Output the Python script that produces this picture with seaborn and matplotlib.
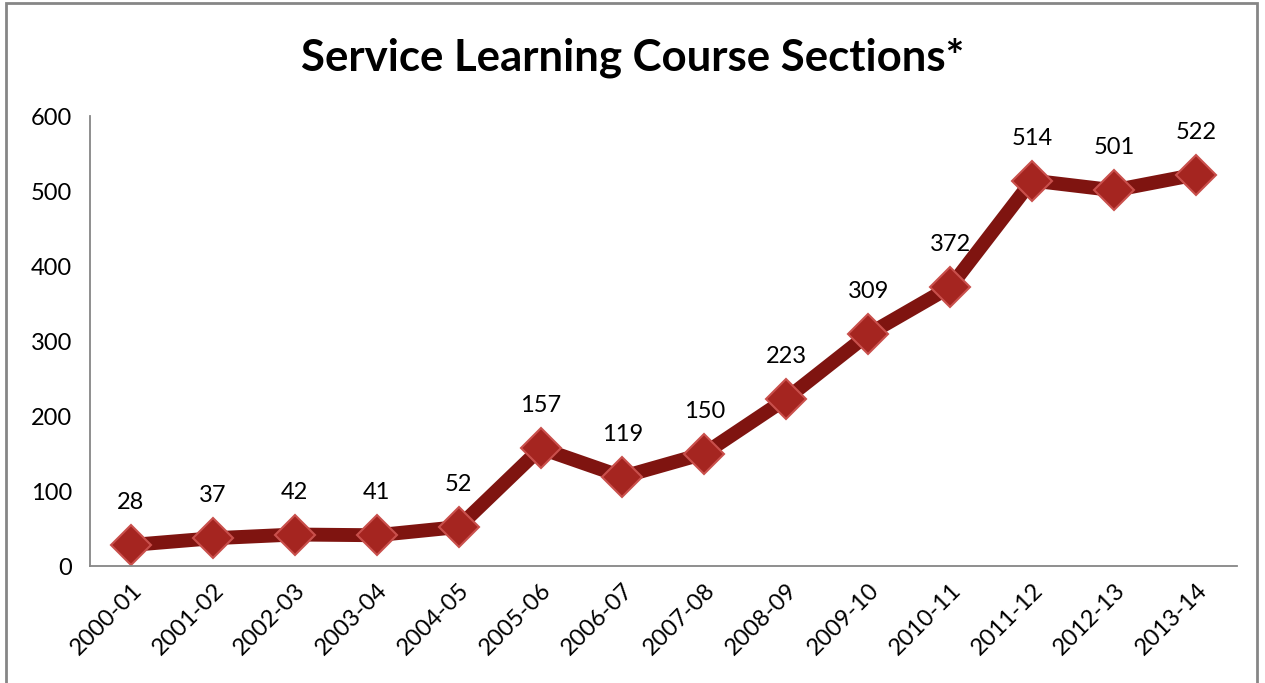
import matplotlib.pyplot as plt
import seaborn as sns
import pandas as pd
import numpy as np
from matplotlib.patches import Rectangle

years = ['2000-01', '2001-02', '2002-03', '2003-04', '2004-05', '2005-06', '2006-07',
         '2007-08', '2008-09', '2009-10', '2010-11', '2011-12', '2012-13', '2013-14']
sections = [28, 37, 42, 41, 52, 157, 119, 150, 223, 309, 372, 514, 501, 522]

data = pd.DataFrame({'pos': np.arange(len(years)), 'Year': years, 'Sections': sections})

sns.set_style('white')
plt.rcParams['font.family'] = ['Lato', 'DejaVu Sans']
plt.rcParams['text.color'] = 'black'
plt.rcParams['xtick.color'] = 'black'
plt.rcParams['ytick.color'] = 'black'

fig = plt.figure(figsize=(12.65, 6.83), dpi=100)
ax = fig.add_axes([0.0711, 0.1713, 0.9067, 0.6588])

sns.lineplot(x='pos', y='Sections', data=data, ax=ax, color='#7f1410', linewidth=10,
             marker='D', markersize=20, markerfacecolor='#a52520',
             markeredgecolor='#c9504c', markeredgewidth=1.5, sort=False)

# value labels
for x, v in zip(data['pos'], data['Sections']):
    ax.annotate(str(v), (x, v), xytext=(0, 23), textcoords='offset points',
                ha='center', va='bottom', fontsize=17)

ax.set_xlim(-0.5, len(years) - 0.5)
ax.set_ylim(0, 600)
ax.set_yticks(range(0, 601, 100))
ax.set_xticks(data['pos'])
ax.set_xticklabels(years, rotation=45, ha='right', rotation_mode='anchor', fontsize=17)
ax.set_xticks(np.arange(-0.5, len(years), 1), minor=True)
ax.tick_params(axis='x', which='major', length=0, pad=10)
ax.tick_params(axis='x', which='minor', length=7, color='#868686', width=1.3)
ax.tick_params(axis='y', length=7, color='#868686', width=1.3, labelsize=17, pad=6,
               labelcolor='black')
ax.set_xlabel('')
ax.set_ylabel('')

for s in ['top', 'right']:
    ax.spines[s].set_visible(False)
for s in ['left', 'bottom']:
    ax.spines[s].set_color('#868686')
    ax.spines[s].set_linewidth(1.3)

fig.text(0.5, 0.915, 'Service Learning Course Sections*', ha='center', va='center',
         fontsize=31.5, fontweight='bold')

# chart border
fig.patches.append(Rectangle((0.005, -0.1), 0.989, 1.095, transform=fig.transFigure,
                             fill=False, edgecolor='#868686', linewidth=2))

fig.savefig('out.png', dpi=100)
